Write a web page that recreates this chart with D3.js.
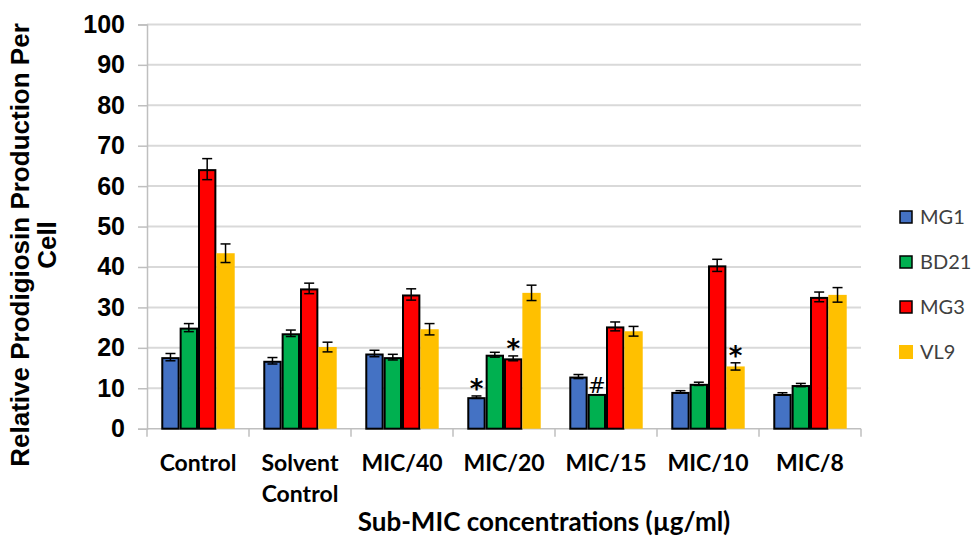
<!DOCTYPE html>
<html><head><meta charset="utf-8">
<script src="https://cdn.jsdelivr.net/npm/d3@7"></script>
<style>body{margin:0;background:#fff;} svg{display:block;}</style>
</head><body>
<svg id="c" width="973" height="540"></svg>
<script>
const categories = [["Control"],["Solvent","Control"],["MIC/40"],["MIC/20"],["MIC/15"],["MIC/10"],["MIC/8"]];
const seriesNames = ["MG1","BD21","MG3","VL9"];
const seriesColors = ["#4472C4","#00B050","#FF0000","#FFC000"];
const seriesStroke = [true,true,true,false];
const MG1  = [17.7, 16.8, 18.6, 7.8, 12.9, 9.1, 8.6];
const BD21 = [25.0, 23.6, 17.7, 18.3, 8.6, 11.1, 10.8];
const MG3  = [64.2, 34.7, 33.2, 17.4, 25.3, 40.4, 32.6];
const VL9  = [43.4, 20.2, 24.6, 33.6, 24.1, 15.4, 33.1];
const MG1err  = [0.9, 0.8, 0.8, 0.3, 0.5, 0.3, 0.3];
const BD21err = [1.0, 0.8, 0.7, 0.6, 0.0, 0.4, 0.4];
const MG3err  = [2.6, 1.3, 1.4, 0.6, 1.1, 1.5, 1.2];
const VL9err  = [2.3, 1.2, 1.4, 1.9, 1.2, 0.9, 1.8];
const yTicks = [0,10,20,30,40,50,60,70,80,90,100];
// significance marks: [category index, series index, symbol]
const marks = [[3,0,"*"],[3,2,"*"],[4,1,"#"],[5,3,"*"]];

const values = [MG1,BD21,MG3,VL9];
const errs = [MG1err,BD21err,MG3err,VL9err];

const svg = d3.select("#c");
const L=147, R=861, T=24.4, B=428.7;
const y = d3.scaleLinear().domain([0,100]).range([B,T]);
const x0 = d3.scaleBand().domain(d3.range(categories.length)).range([L,R]).paddingInner(0.28).paddingOuter(0.14);
const x1 = d3.scaleBand().domain(d3.range(seriesNames.length)).range([0,x0.bandwidth()]).padding(0);
const xb = d3.scaleBand().domain(d3.range(categories.length)).range([L,R]);

// gridlines
svg.append("g").selectAll("line").data(yTicks.filter(d=>d>0)).join("line")
  .attr("x1",L).attr("x2",R).attr("y1",d=>y(d)).attr("y2",d=>y(d))
  .attr("stroke","#d9d9d9").attr("stroke-width",2);

// y axis
const ya = svg.append("g").attr("transform",`translate(${L},0)`)
  .call(d3.axisLeft(y).tickValues(yTicks).tickSize(9).tickPadding(13));
ya.select(".domain").attr("stroke","#bfbfbf").attr("stroke-width",1.5);
ya.selectAll(".tick line").attr("stroke","#bfbfbf").attr("stroke-width",1.5);
ya.selectAll(".tick text").attr("font-family","Liberation Sans, Arial, sans-serif")
  .attr("font-weight","bold").attr("font-size",25).attr("fill","#000");

// x axis
const xa = svg.append("g").attr("transform",`translate(0,${B})`);
xa.append("line").attr("x1",L).attr("x2",R).attr("stroke","#bfbfbf").attr("stroke-width",1.5);
xa.selectAll("line.tk").data(d3.range(categories.length+1)).join("line").attr("class","tk")
  .attr("x1",d=>L+d*xb.bandwidth()).attr("x2",d=>L+d*xb.bandwidth()).attr("y1",0).attr("y2",8)
  .attr("stroke","#bfbfbf").attr("stroke-width",1.5);
const xl = svg.append("g");
categories.forEach((c,i)=>{
  const t = xl.append("text").attr("x",xb(i)+xb.bandwidth()/2).attr("y",471)
    .attr("text-anchor","middle").attr("font-family","Lato, sans-serif").attr("font-weight","bold")
    .attr("font-size",23).attr("fill","#000");
  c.forEach((s,j)=>t.append("tspan").attr("x",xb(i)+xb.bandwidth()/2).attr("dy",j?31:0).text(s));
});

// bars
const g = svg.append("g");
values.forEach((vals,s)=>{
  g.selectAll(null).data(vals).join("rect")
    .attr("x",(d,i)=>x0(i)+x1(s)+(seriesStroke[s]?1:0))
    .attr("width",x1.bandwidth()-(seriesStroke[s]?2:0))
    .attr("y",d=>y(d)+(seriesStroke[s]?1:0))
    .attr("height",d=>B-y(d)-(seriesStroke[s]?1:0))
    .attr("fill",seriesColors[s])
    .attr("stroke",seriesStroke[s]?"#000":"none").attr("stroke-width",2);
});
// error bars
values.forEach((vals,s)=>{
  vals.forEach((v,i)=>{
    const e = errs[s][i]; if(!e) return;
    const cx = x0(i)+x1(s)+x1.bandwidth()/2;
    const eg = g.append("g").attr("stroke","#000").attr("stroke-width",1.5);
    eg.append("line").attr("x1",cx).attr("x2",cx).attr("y1",y(v+e)).attr("y2",y(v-e));
    eg.append("line").attr("x1",cx-5).attr("x2",cx+5).attr("y1",y(v+e)).attr("y2",y(v+e));
    eg.append("line").attr("x1",cx-5).attr("x2",cx+5).attr("y1",y(v-e)).attr("y2",y(v-e));
  });
});
// significance marks
marks.forEach(([i,s,sym])=>{
  const v = values[s][i]+errs[s][i];
  const cx = x0(i)+x1(s)+x1.bandwidth()/2;
  if(sym=="*"){
    svg.append("text").attr("x",cx).attr("y",y(v)+2)
      .attr("text-anchor","middle").attr("font-family","DejaVu Sans, sans-serif").attr("font-weight","bold")
      .attr("font-size",26).attr("fill","#000").text(sym);
  } else {
    svg.append("text").attr("x",cx).attr("y",y(v)-1)
      .attr("text-anchor","middle").attr("font-family","DejaVu Sans, sans-serif")
      .attr("font-size",21).attr("fill","#000").text(sym);
  }
});

// legend
const lg = svg.append("g");
seriesNames.forEach((n,s)=>{
  const yy = 217 + s*45;
  lg.append("rect").attr("x",seriesStroke[s]?900:899).attr("width",seriesStroke[s]?12:14).attr("height",seriesStroke[s]?12:14)
    .attr("y",seriesStroke[s]?yy-6:yy-7)
    .attr("fill",seriesColors[s]).attr("stroke",seriesStroke[s]?"#000":"none").attr("stroke-width",1.5);
  lg.append("text").attr("x",920).attr("y",yy).attr("dy","0.36em")
    .attr("font-family","Lato, sans-serif").attr("font-size",20).attr("fill","#404040").text(n);
});

// y title
svg.append("text").attr("transform","translate(29,245) rotate(-90)").attr("text-anchor","middle")
  .attr("font-family","Liberation Sans, Arial, sans-serif").attr("font-weight","bold").attr("font-size",26).attr("fill","#000")
  .call(t=>{t.append("tspan").attr("x",0).attr("dy",0).text("Relative Prodigiosin Production Per");
           t.append("tspan").attr("x",0).attr("dy",27).text("Cell");});

// x title
svg.append("text").attr("x",544).attr("y",531).attr("text-anchor","middle")
  .attr("font-family","Lato, sans-serif").attr("font-weight","bold").attr("font-size",26).attr("fill","#000")
  .text("Sub-MIC concentrations (µg/ml)");
</script>
</body></html>
